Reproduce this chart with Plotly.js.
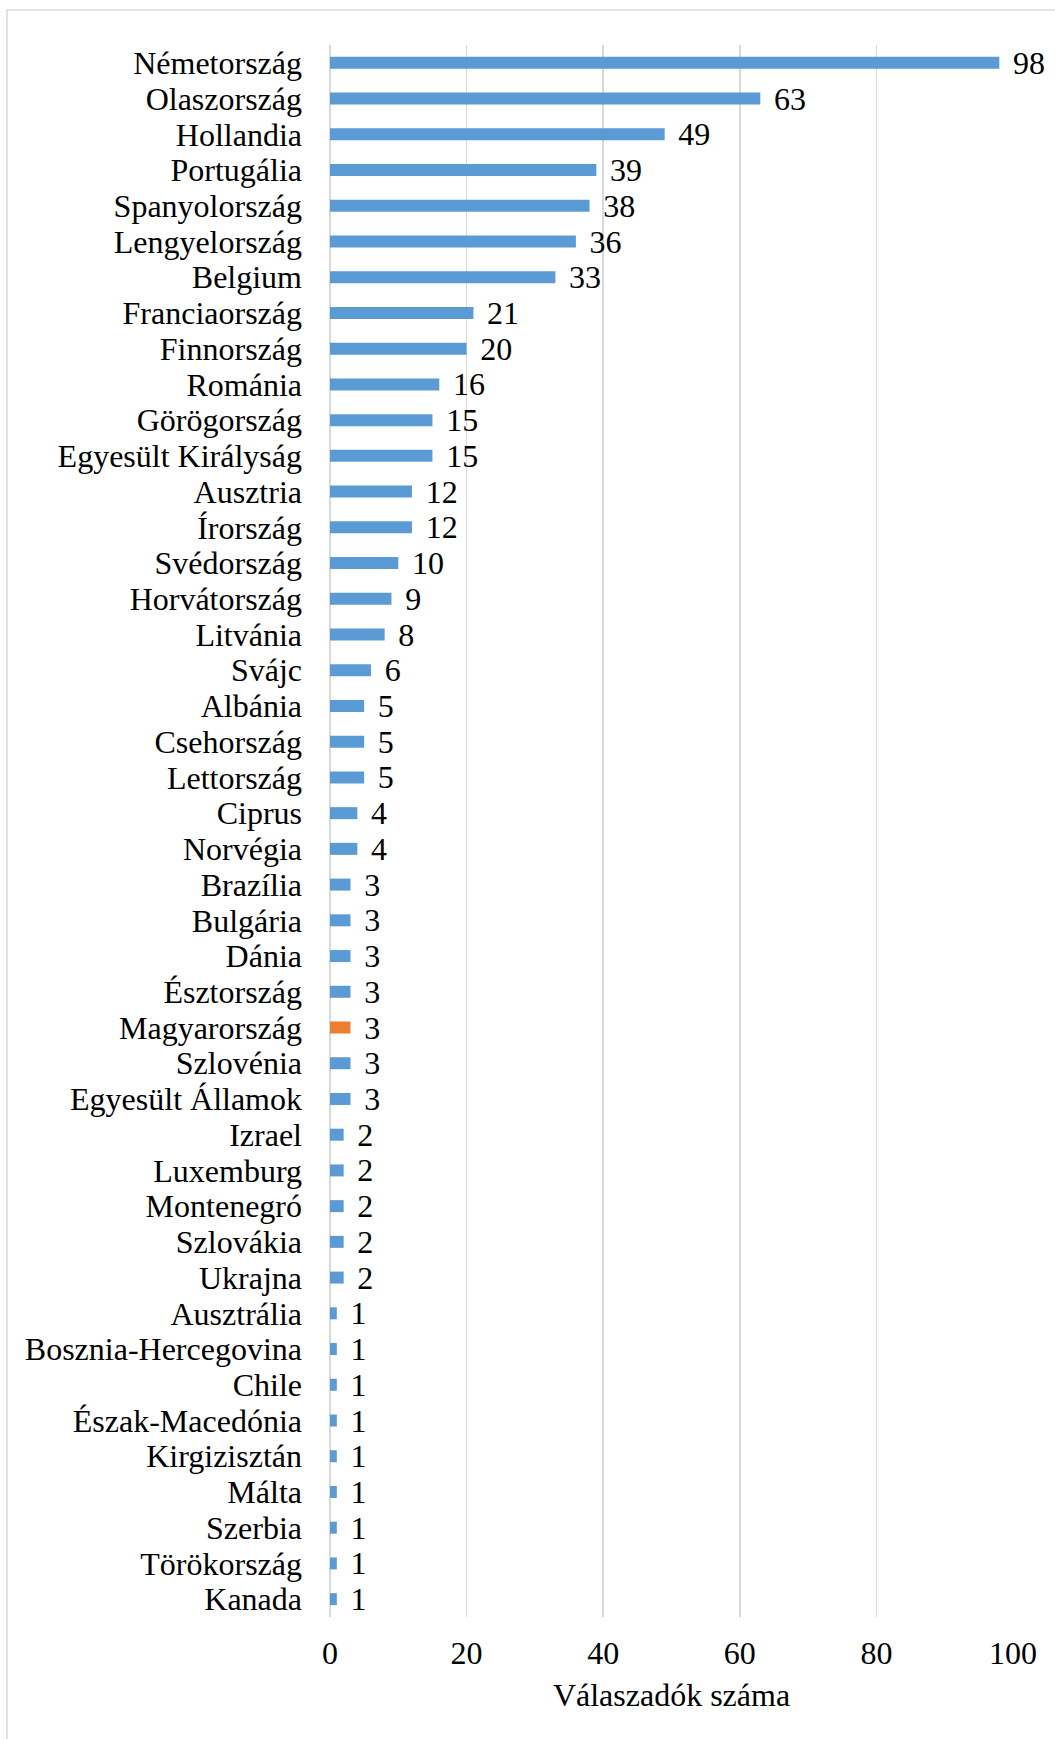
<!DOCTYPE html>
<html>
<head>
<meta charset="utf-8">
<script src="https://cdn.plot.ly/plotly-3.0.1.min.js"></script>
<style>
  html, body { margin: 0; padding: 0; background: #ffffff; }
  #chart { width: 1055px; height: 1739px; }
</style>
</head>
<body>
<div id="chart"></div>
<script>
const countries = [
  "Németország", "Olaszország", "Hollandia", "Portugália", "Spanyolország",
  "Lengyelország", "Belgium", "Franciaország", "Finnország", "Románia",
  "Görögország", "Egyesült Királyság", "Ausztria", "Írország", "Svédország",
  "Horvátország", "Litvánia", "Svájc", "Albánia", "Csehország",
  "Lettország", "Ciprus", "Norvégia", "Brazília", "Bulgária",
  "Dánia", "Észtország", "Magyarország", "Szlovénia", "Egyesült Államok",
  "Izrael", "Luxemburg", "Montenegró", "Szlovákia", "Ukrajna",
  "Ausztrália", "Bosznia-Hercegovina", "Chile", "Észak-Macedónia", "Kirgizisztán",
  "Málta", "Szerbia", "Törökország", "Kanada"
];
const respondents = [
  98, 63, 49, 39, 38,
  36, 33, 21, 20, 16,
  15, 15, 12, 12, 10,
  9, 8, 6, 5, 5,
  5, 4, 4, 3, 3,
  3, 3, 3, 3, 3,
  2, 2, 2, 2, 2,
  1, 1, 1, 1, 1,
  1, 1, 1, 1
];
const highlighted = "Magyarország";
const xTickValues = [0, 20, 40, 60, 80, 100];
const xAxisTitle = "Válaszadók száma";

const BLUE = "#5b9bd5";
const ORANGE = "#ed7d31";
const GRID = "#d9d9d9";
const FONT = "Liberation Serif";

const W = 1055, H = 1739;
const M = { l: 330, r: 42, t: 45, b: 122 };
const pw = W - M.l - M.r, ph = H - M.t - M.b;
function px(x) { return (x - M.l) / pw; }
function py(y) { return 1 - (y - M.t) / ph; }

const colors = countries.map(c => c === highlighted ? ORANGE : BLUE);

const trace = {
  type: "bar",
  orientation: "h",
  y: countries,
  x: respondents,
  marker: { color: colors, line: { width: 0 } },
  texttemplate: "\u00a0\u200a%{x}",
  textposition: "outside",
  constraintext: "none",
  cliponaxis: false,
  textfont: { family: FONT, size: 32, color: "#000000" },
  hoverinfo: "none"
};

const layout = {
  width: W,
  height: H,
  margin: M,
  paper_bgcolor: "#ffffff",
  plot_bgcolor: "#ffffff",
  font: { family: FONT, size: 32, color: "#000000" },
  showlegend: false,
  bargap: 0.664,
  xaxis: {
    range: [0, 100],
    tickvals: xTickValues,
    ticktext: xTickValues.map(String),
    showgrid: true,
    gridcolor: GRID,
    gridwidth: 1.5,
    zeroline: true,
    zerolinecolor: GRID,
    zerolinewidth: 1.5,
    showline: false,
    ticks: "",
    ticklabelstandoff: 14,
    tickfont: { family: FONT, size: 32, color: "#000000" },
    title: { text: xAxisTitle, font: { family: FONT, size: 32, color: "#000000" }, standoff: 13 },
    fixedrange: true
  },
  yaxis: {
    type: "category",
    autorange: "reversed",
    tickmode: "linear",
    dtick: 1,
    showgrid: false,
    zeroline: false,
    showline: false,
    ticks: "",
    ticklabelstandoff: 27,
    tickfont: { family: FONT, size: 32, color: "#000000" },
    fixedrange: true
  },
  shapes: [{
    type: "rect",
    xref: "paper", yref: "paper",
    x0: px(7), x1: px(1070),
    y0: py(1760), y1: py(10),
    line: { color: GRID, width: 1.5 },
    fillcolor: "rgba(0,0,0,0)",
    layer: "below"
  }]
};

Plotly.newPlot("chart", [trace], layout, { displayModeBar: false, staticPlot: true });
</script>
</body>
</html>
